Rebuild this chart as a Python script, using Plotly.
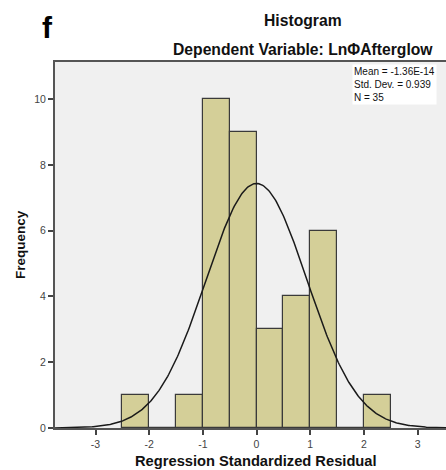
import numpy as np
import plotly.graph_objects as go

# Data
bin_left_edges = [-2.5, -2.0, -1.5, -1.0, -0.5, 0.0, 0.5, 1.0, 1.5, 2.0]
bin_counts = [1, 0, 1, 10, 9, 3, 4, 6, 0, 1]
bin_width = 0.5
stat_mean = -1.36e-14
stat_sd = 0.939
stat_n = 35
x_ticks = [-3, -2, -1, 0, 1, 2, 3]
y_ticks = [0, 2, 4, 6, 8, 10]

W, H = 446, 470
L, R, T, B = 55, 0, 62, 42
pw, ph = W - L - R, H - T - B

def px(x):
    return (x - L) / pw

def py(y):
    return (H - B - y) / ph

FONT = "Arial, Liberation Sans, sans-serif"

centers = [e + bin_width / 2 for e in bin_left_edges]

fig = go.Figure()
fig.add_trace(go.Bar(
    x=centers, y=bin_counts, width=bin_width,
    marker=dict(color="#d4cf98", line=dict(color="#3a3a3a", width=1.2)),
    hoverinfo="skip",
))

xr = [-3.755, 3.53]
xc = np.linspace(xr[0], xr[1], 400)
yc = stat_n * bin_width * np.exp(-0.5 * ((xc - stat_mean) / stat_sd) ** 2) / (stat_sd * np.sqrt(2 * np.pi))
fig.add_trace(go.Scatter(x=xc, y=yc, mode="lines", line=dict(color="#1a1a1a", width=1.5), hoverinfo="skip"))

fig.update_layout(
    width=W, height=H,
    margin=dict(l=L, r=R, t=T, b=B),
    paper_bgcolor="white", plot_bgcolor="#f0f0f0",
    showlegend=False, bargap=0,
    font=dict(family=FONT, color="#333333"),
    xaxis=dict(range=xr, tickvals=x_ticks, ticktext=[str(v) for v in x_ticks],
               showgrid=False, zeroline=False, showline=True, linecolor="#555555", linewidth=2,
               mirror=True, ticks="outside", ticklen=5, tickwidth=1.5, tickcolor="#444444",
               tickfont=dict(size=10.5, color="#444444", family=FONT)),
    yaxis=dict(range=[0, 11.13], tickvals=y_ticks, showgrid=False, zeroline=False,
               showline=True, linecolor="#555555", linewidth=2,
               ticks="outside", ticklen=5, tickwidth=1.5, tickcolor="#444444",
               tickfont=dict(size=10.5, color="#444444", family=FONT)),
)

ann = [
    dict(text="<b>Histogram</b>", x=px(303), y=py(20), font=dict(size=15.7, color="#111111")),
    dict(text="<b>Dependent Variable: LnΦAfterglow</b>", x=px(303), y=py(49), font=dict(size=15.7, color="#111111")),
    dict(text="<b>f</b>", x=px(47), y=py(27), font=dict(size=30, color="#000000")),
    dict(text="<b>Frequency</b>", x=px(20), y=py(245), textangle=-90, font=dict(size=13.5, color="#111111")),
    dict(text="<b>Regression Standardized Residual</b>", x=px(256), y=py(461), font=dict(size=14.7, color="#111111")),
]
for a in ann:
    fig.add_annotation(xref="paper", yref="paper", showarrow=False, xanchor="center", yanchor="middle", **a)

fig.add_annotation(
    xref="paper", yref="paper", x=px(352), y=py(64), xanchor="left", yanchor="top",
    showarrow=False, align="left", bgcolor="white", borderpad=1,
    text=f"Mean = -1.36E-14<br>Std. Dev. = {stat_sd}<br>N = {stat_n}",
    font=dict(size=10, color="#111111", family=FONT),
)

fig.write_html("out.html")
